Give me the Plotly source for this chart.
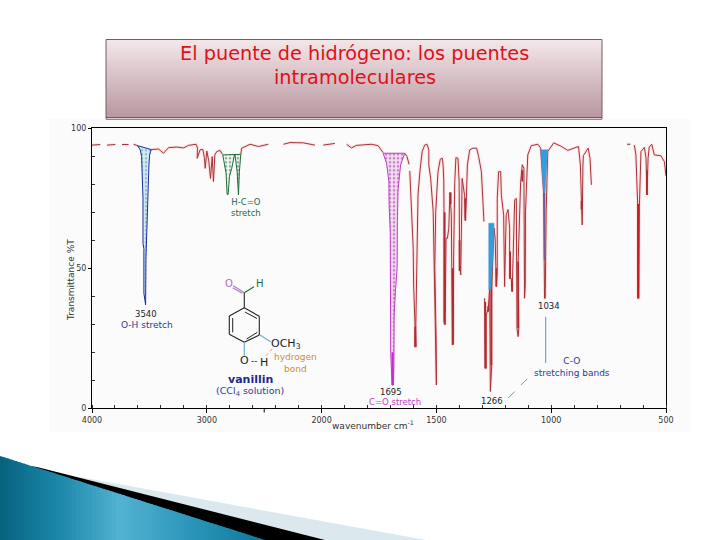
import plotly.graph_objects as go

W, H = 720, 540
FONT = "DejaVu Sans"

# ---- data (wavenumber cm-1, %T); None breaks the line
red_wn = [4000,3928,None,3870,3797,None,3739,3681,None,3638,3603,None,
          3484,3420,3377,3333,3261,3203,3159,3093,3081,3084,3058,3035,3020,3014,3000,2982,2968,2953,2942,2930,2913,2884,2864,None,
          2704,2696,2623,2550,2464,None,2333,2275,2159,2058,None,1993,1942,None,1891,1870,1848,1790,1783,1754,1732,None,
          1638,1628,1619,None,
          1616,1612,1606,1601,1599,1593,1594,1588,1590,1584,1580,1572,1562,1551,1541,1533,1533,1525,1514,1507,1503,1500,1501,1507,1503,1493,1483,1474,1471,1468,1467,1467,1462,1458,1452,1446,1441,1438,1435,1430,1426,1425,1420,1415,1406,1401,1399,1394,1391,1388,1377,1374,1370,1365,1355,1341,1325,1316,1304,1293,None,
          1290,1287,1283,1283,1274,1268,1265,1262,1259,1259,1249,1244,1239,1235,1235,1229,1220,1217,1207,1203,1196,1188,1181,1181,1174,1170,1167,1159,1152,1149,1144,1141,1144,1133,1126,1119,1116,1113,1112,1106,1102,1087,1058,1046,1033,1029,1026,1022,1020,1015,989,957,928,899,881,873,868,865,862,860,839,831,825,None,
          670,655,None,638,631,623,623,619,616,609,594,587,583,578,573,562,551,522,507,500]
red_t = [94,94.2,None,94,94.2,None,94.2,94.2,None,94.3,93.8,None,
         92.4,92.6,91.1,93.1,93.3,93,93.9,94.3,92.9,89.3,92.3,92.5,89.3,85.7,91.9,88.1,82.1,89.9,81,90.5,91.7,92.1,90.7,None,
         90.7,92.9,94.3,93.5,94.3,None,94.3,94.9,94.8,94,None,94,94.6,None,94.3,93,93.9,94.3,94.3,93.8,91.3,None,
         91.1,89.9,87.1,None,
         84.8,77.4,69,57.1,44,29.2,22,22,28.6,63,76.2,84.5,91.7,94,94.3,92.3,86.9,82.1,70.2,39.3,8.3,8.3,23.8,50.6,70.2,84.5,89,89.3,87,81.5,71.4,31,29.8,60.7,60.7,64.3,77.1,73.8,69,22.6,23.2,53.6,81,89.5,89.3,81,51.2,47.6,74,82.1,76,67.9,74,87,92.3,92.9,92.9,89.9,84.5,66.7,None,
         39.3,14.3,14.3,33.3,35.7,43,6,15.5,15.5,43,64.3,60.7,43.5,48.8,75,84.5,84.5,76,69,43.5,69,71,64.3,46.4,46.4,41.7,51.2,74.4,75,28.6,25.6,28.6,52.4,81,87,85.7,39.3,44,70.2,82.1,90.5,93.8,94.3,92.9,77,39.3,39.3,70.2,77.4,91.7,94.8,93.6,92.1,92.9,93.5,86.9,72.6,65.5,86,90.2,92.9,89.3,79.8,None,
         94.3,94.3,None,94,90.5,72,39.3,39.3,72,91.7,93.2,89.3,76.2,89.3,93.3,94.3,90.5,90.2,88.1,83]

# heavier stretches of the red trace: (wn, T top, T bottom)
heavy_wn = [1592,1438,1429,1464,1399,1374,1144,1287,1261,1179,1170,1239,1126,583,868,1274]
heavy_top = [29.2,77.1,50,70,60,75,52.4,38,50,56,45,50,85,85,74,36.5]
heavy_bot = [22,73,22.6,30,49,67,28.6,14.3,15.5,46.4,41.7,43.5,81,76.2,71,34.5]
strong_wn = [621]
strong_top = [73]
strong_bot = [39.3]

oh_wn = [3603,3580,3568,3565,3556,3556,3548,3548,3539,3533,3530,3519,3513,3504,3498,3484,3603]
oh_t = [93.8,92.3,89.9,86.9,75,58.9,57.1,41.1,36.9,36.9,53.6,70.2,81,86.9,90.5,92.4,93.8]

cho_wn = [2861,2832,2823,2814,2803,2783,2759,2754,2736,2724,2716,2704,2861]
cho_t = [90.5,83.9,76.4,76.4,82.7,85.7,90.5,90.5,84.5,76.2,84.5,90.7,90.5]

co_wn = [1732,1717,1707,1706,1701,1701,1699,1693,1687,1685,1684,1678,1671,1670,1667,1656,1638,1732]
co_t = [91.1,87.5,81,72.9,62.5,49.4,19.6,8.3,8.3,14.9,33.3,42.3,50,66.7,78,86.9,91.1,91.1]

band_1266_wn = [1272,1249,1249,1262,1272,1272]
band_1266_t = [66.1,66.1,62,42.5,42.3,66.1]
band_1034_wn = [1046,1015,1027,1033,1046]
band_1034_t = [92.3,92.3,77,77,92.3]

tick_wn = [4000,3000,2000,1500,1000,500]
tick_text = ["4000","3000","2000","1500","1000","500"]
y_ticks = [0,50,100]
y_minor = [10,20,30,40,60,70,80,90]


def pos(w):
    if w is None:
        return None
    return (4000 - w) / 1000 if w >= 2000 else 2 + (2000 - w) / 500


def xs(lst):
    return [pos(w) for w in lst]


minor_x = [i * 0.2 for i in range(26)]

fig = go.Figure()

fig.add_trace(go.Scatter(x=xs(red_wn), y=red_t, mode="lines", line=dict(color="rgba(255,190,190,0.4)", width=3), hoverinfo="skip"))


def band(wn, t, line, bg, fg, name):
    fig.add_trace(go.Scatter(x=xs(wn), y=t, mode="lines", fill="toself", name=name,
                             line=dict(color=line, width=1), fillcolor=bg,
                             fillpattern=dict(shape=".", bgcolor=bg, fgcolor=fg, size=4, solidity=0.35)))


fig.add_trace(go.Scatter(x=xs(red_wn), y=red_t, mode="lines", line=dict(color="#a83238", width=1), name="spectrum"))
for w, a, b in zip(heavy_wn, heavy_top, heavy_bot):
    fig.add_trace(go.Scatter(x=xs([w, w]), y=[a, b], mode="lines", line=dict(color="#b02a30", width=1.8)))
for w, a, b in zip(strong_wn, strong_top, strong_bot):
    fig.add_trace(go.Scatter(x=xs([w, w]), y=[a, b], mode="lines", line=dict(color="#cc1c20", width=2.2)))

band(oh_wn, oh_t, "#1c2e9c", "#d6ecf5", "#3f8cab", "O-H")
band(cho_wn, cho_t, "#1f6a35", "#f2f8f2", "#1f6a35", "H-C=O")
band(co_wn, co_t, "#bd3cc4", "#f6dcf2", "#8f2a96", "C=O")
fig.add_trace(go.Scatter(x=xs([1691, 1691]), y=[20, 8.3], mode="lines", line=dict(color="#c42cc8", width=2)))
for wn, t in ((band_1266_wn, band_1266_t), (band_1034_wn, band_1034_t)):
    fig.add_trace(go.Scatter(x=xs(wn), y=t, mode="lines", fill="toself", fillcolor="#3a9bdc", line=dict(color="#3a9bdc", width=0.5)))
fig.add_trace(go.Scatter(x=xs([1029, 1029]), y=[77, 53], mode="lines", line=dict(color="#7a5a92", width=1.6)))

shapes = []


def px(x):
    return x / W


def py(y):
    return 1 - y / H


def rect(x0, y0, x1, y1, fill, line=None, lw=0):
    shapes.append(dict(type="rect", xref="paper", yref="paper", x0=px(x0), x1=px(x1), y0=py(y0), y1=py(y1),
                       fillcolor=fill, line=dict(color=line or fill, width=lw), layer="below"))


def seg(x0, y0, x1, y1, color="#111111", width=1, dash=None):
    shapes.append(dict(type="line", xref="paper", yref="paper", x0=px(x0), x1=px(x1), y0=py(y0), y1=py(y1),
                       line=dict(color=color, width=width, dash=dash or "solid"), layer="above"))


def poly(points, fill):
    d = "M " + " L ".join(f"{px(a):.5f} {py(b):.5f}" for a, b in points) + " Z"
    shapes.append(dict(type="path", xref="paper", yref="paper", path=d, fillcolor=fill, line=dict(width=0), layer="below"))


def mix(c1, c2, t):
    a = [int(c1[i:i + 2], 16) for i in (1, 3, 5)]
    b = [int(c2[i:i + 2], 16) for i in (1, 3, 5)]
    return "#" + "".join(f"{round(u + (v - u) * t):02x}" for u, v in zip(a, b))


rect(49, 119, 691, 432, "#fbfbfb")

for i in range(78):
    y = 40 + i
    rect(106, y, 602, y + 1.5, mix("#f3e6e9", "#b8979f", i / 77))
seg(106, 39.5, 602, 39.5, "#7a5a60", 1)
seg(106, 39.5, 106, 119, "#7a5a60", 1)
seg(602, 39.5, 602, 119, "#7a5a60", 1)
seg(106, 117.5, 602, 117.5, "#6e5a60", 1)
seg(106, 119.5, 602, 119.5, "#8a8a8a", 1)

seg(264.2, 408.3, 264.2, 412.5, "#000000", 1)

# corner swoosh
poly([(80, 477), (426, 540), (325, 540), (60, 475)], "#dbe9ef")
poly([(37, 467), (325, 540), (263, 540), (30, 466)], "#000000")
stops = [(0, "#07647f"), (55, "#1a86a8"), (118, "#52b2d2"), (190, "#2b95b9"), (266, "#0a7897")]
step = 4
for x in range(0, 266, step):
    for (a, ca), (b, cb) in zip(stops, stops[1:]):
        if a <= x <= b:
            col = mix(ca, cb, (x - a) / (b - a))
            break
    top0 = 456 + 84 * x / 265
    x1 = x + step + 1
    top1 = 456 + 84 * x1 / 265
    poly([(x, top0), (x1, top1), (x1, 540), (x, 540)], col)

ring = [(244.3, 307.7), (259.3, 316.3), (259.3, 335), (244.3, 342.3), (229.3, 334.3), (229.3, 316)]
for a, b in zip(ring, ring[1:] + ring[:1]):
    seg(a[0], a[1], b[0], b[1], "#222222", 1.1)
seg(232.7, 318, 232.7, 332.3, "#222222", 1)
seg(245, 312, 257, 318.5, "#222222", 1)
seg(246.7, 339, 257.3, 332.3, "#222222", 1)
seg(244.3, 307.7, 244.3, 292.7, "#222222", 1.1)
seg(244.3, 292.7, 233.3, 285.7, "#b878c8", 1.1)
seg(242.3, 293.3, 232.7, 287.7, "#b878c8", 1.1)
seg(244.3, 292.7, 254, 286.7, "#1f6a35", 1.1)
seg(260, 335, 270.7, 341.7, "#6fb0c4", 1.2)
seg(244.3, 342.3, 244.3, 355.7, "#6fb0c4", 1.2)
seg(266, 355.7, 272.7, 348.3, "#c9a070", 1, "dot")

seg(545.7, 316.7, 545.7, 363, "#3fa0c0", 1)
seg(508.3, 398, 529, 377, "#5aa8c4", 1, "dash")

ann = []


def label(x, y, text, size=9, color="#222222", **kw):
    ann.append(dict(x=px(x), y=py(y), xref="paper", yref="paper", text=text, showarrow=False,
                    xanchor="center", yanchor="middle", font=dict(family=FONT, size=size, color=color), **kw))


RED = "#e01018"
label(354.5, 53.5, "El puente de hidrógeno: los puentes", 19.3, RED)
label(354.5, 77.5, "intramoleculares", 19.3, RED)
label(71, 280, "Transmittance %T", 9, "#333333", textangle=-90)
label(373, 424.5, "wavenumber cm<sup>-1</sup>", 9, "#333333")
label(145.7, 314, "3540", 8.5, "#222222")
label(146.7, 324.5, "O-H stretch", 9, "#2a3a96")
label(245.7, 207.5, "H-C=O<br>stretch", 8.5, "#2a6a3a")
label(228.5, 283.5, "O", 10, "#b070c0")
label(259.5, 283.5, "H", 10, "#1f6a35")
label(286, 344, "OCH<sub>3</sub>", 11, "#222222")
label(244.5, 360.5, "O", 11, "#222222")
label(264, 362, "H", 11, "#222222")
label(254, 361, "--", 9, "#222222")
label(295, 363, "hydrogen<br>bond", 9, "#c8903c")
label(250, 379, "<b>vanillin</b>", 11, "#1c2a8c")
label(250, 391, "(CCl<sub>4</sub> solution)", 9.5, "#2a3a96")
label(390.7, 391.7, "1695", 8.5, "#222222")
label(395, 402, "C=O stretch", 8.5, "#c040c8")
label(491.7, 401, "1266", 8.5, "#222222")
label(548.7, 306, "1034", 8.5, "#222222")
label(571.5, 367, "C-O<br>stretching bands", 9, "#2a3a96")

fig.update_layout(
    width=W, height=H, margin=dict(l=0, r=0, t=0, b=0, autoexpand=False), autosize=False,
    paper_bgcolor="white", plot_bgcolor="rgba(255,255,255,0)", showlegend=False,
    shapes=shapes, annotations=ann,
    font=dict(family=FONT, size=8, color="#333333"),
    xaxis=dict(domain=[92 / W, 666 / W], range=[0, 5], tickmode="array", tickvals=[pos(w) for w in tick_wn], ticktext=tick_text,
               automargin=False, ticks="outside", ticklen=4, tickcolor="black", showgrid=False, zeroline=False,
               showline=True, linecolor="black", linewidth=1, mirror=True,
               minor=dict(tickmode="array", tickvals=minor_x, ticks="inside", ticklen=3, tickcolor="#333333", showgrid=False),
               tickfont=dict(size=8)),
    yaxis=dict(domain=[1 - 408.3 / H, 1 - 128.3 / H], range=[0, 100], tickmode="array", tickvals=y_ticks,
               automargin=False, ticks="outside", ticklen=3, tickcolor="black", showgrid=False, zeroline=False,
               showline=True, linecolor="black", linewidth=1, mirror=True,
               minor=dict(tickmode="array", tickvals=y_minor, ticks="inside", ticklen=3, tickcolor="#333333", showgrid=False),
               tickfont=dict(size=8)),
)

fig.write_html("out.html", config=dict(displayModeBar=False),
               post_script="document.body.style.margin='0';document.body.style.padding='0';")
